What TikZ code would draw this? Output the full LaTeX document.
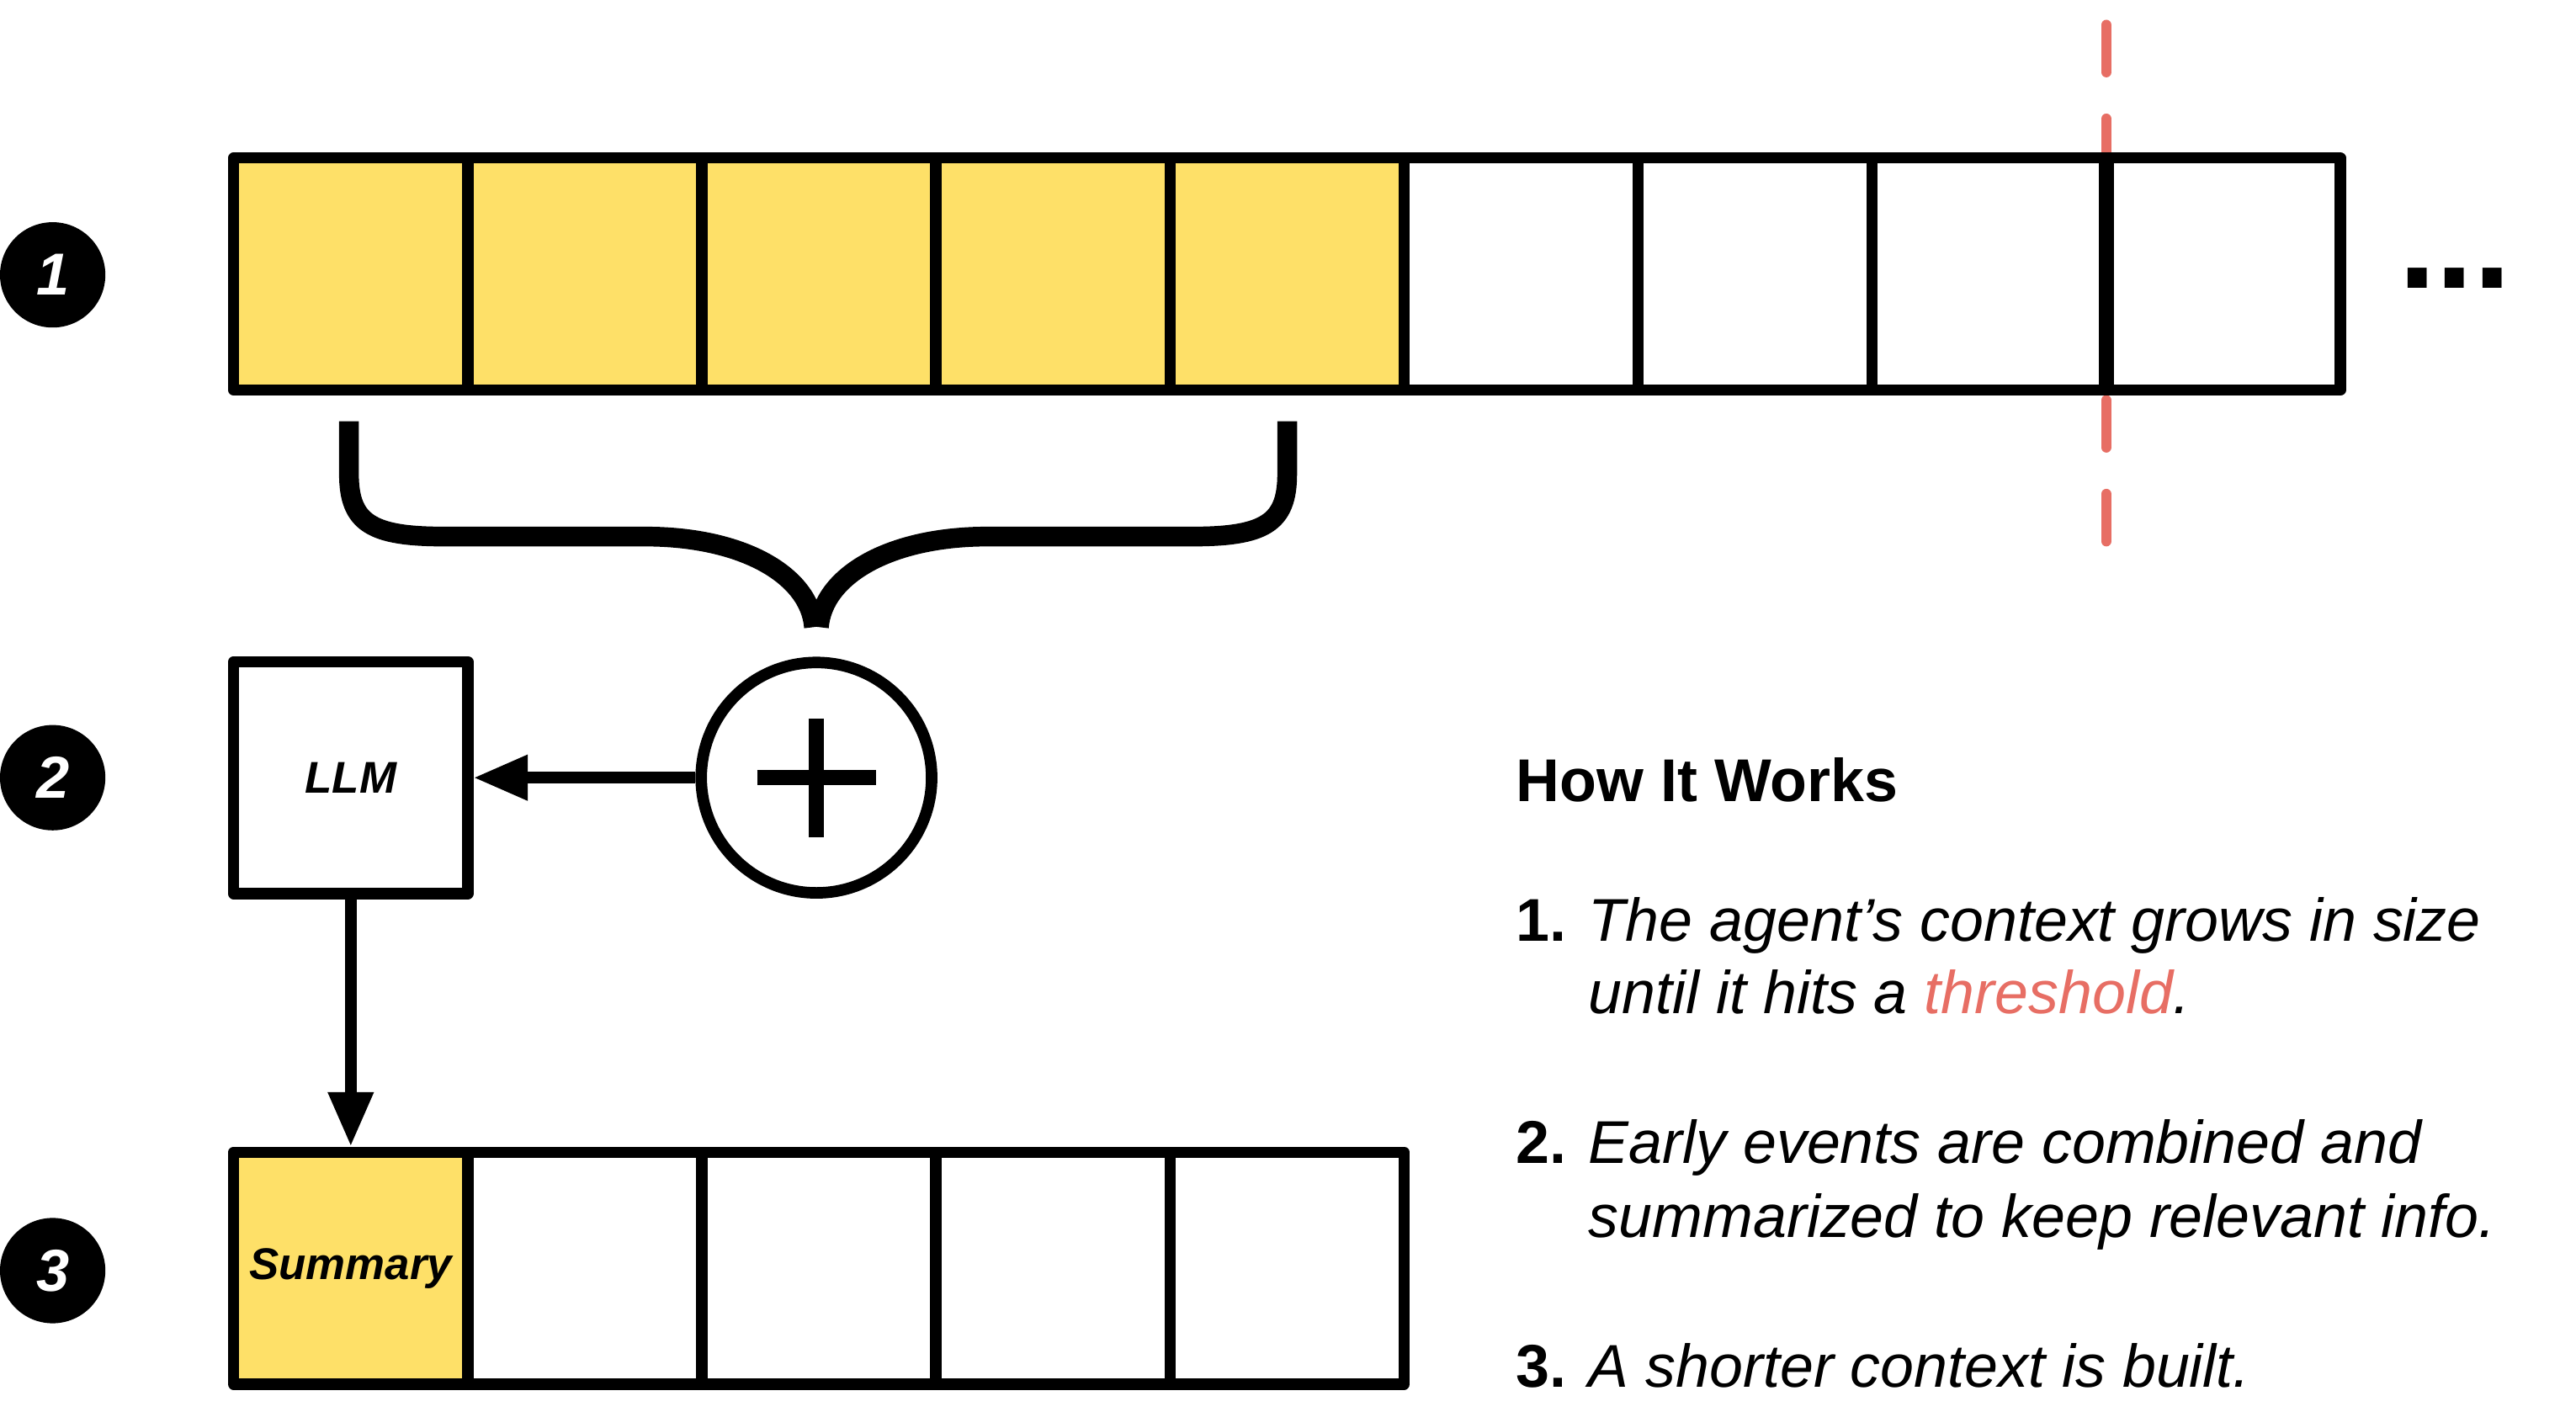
\documentclass[tikz,border=0pt]{standalone}
\usepackage{fontspec}
\setmainfont{Liberation Sans}
\usetikzlibrary{arrows.meta}
\definecolor{cellyellow}{RGB}{254,224,104}
\definecolor{threshred}{RGB}{231,110,100}
\begin{document}
\begin{tikzpicture}[x=1pt,y=-1pt,
  topcell/.style={draw=black, line width=6.8pt, minimum width=142.2pt, minimum height=141pt, inner sep=0pt, outer sep=0pt, line join=round},
  botcell/.style={draw=black, line width=6.8pt, minimum width=142.2pt, minimum height=141pt, inner sep=0pt, line join=round},
  numc/.style={circle, fill=black, text=white, minimum size=64pt, inner sep=0pt, font=\fontsize{36}{36}\selectfont\bfseries\itshape},
  boxlabel/.style={font=\fontsize{27}{27}\selectfont\bfseries\itshape},
  txt/.style={anchor=base west, inner sep=0pt, font=\fontsize{36.7}{44}\selectfont},
  bracestroke/.style={line width=12pt, line cap=butt, line join=round},
  conn/.style={line width=7pt, -{Triangle[length=33pt,width=26pt]}}
]
\useasboundingbox (0,0) rectangle (1565,857.4);

% threshold line (behind the cells)
\draw[threshred, line width=6.4pt, line cap=round, dash pattern=on 28.6pt off 28.4pt] (1279.6,15.2) -- (1279.6,331);

% top row
\foreach \i in {1,...,5}{
  \node[topcell, fill=cellyellow] (t\i) at ({142+142.2*(\i-0.5)},166.5) {};
}
\foreach \i in {6,...,9}{
  \node[topcell, fill=white] (t\i) at ({142+142.2*(\i-0.5)},166.5) {};
}
\draw[line width=9pt] (t9.north west) -- (t9.south west);

% dots
\node[anchor=base west, inner sep=0pt, font=\fontsize{82}{82}\selectfont\bfseries] (dots) at (1457,175) {...};

% number circles
\node[numc] (n1) at (32,167) {1};
\node[numc] (n2) at (32,472.5) {2};
\node[numc] (n3) at (32,772) {3};

% brace
\draw[bracestroke] (212,256) -- (212,288) .. controls (212,318) and (226,326) .. (270,326) -- (392,326) .. controls (452,326) and (492,350) .. (494.5,381);
\draw[bracestroke] (782,256) -- (782,288) .. controls (782,318) and (768,326) .. (724,326) -- (600,326) .. controls (540,326) and (500,350) .. (497.5,381);

% LLM box and plus
\node[draw=black, line width=6.8pt, minimum width=142.2pt, minimum height=141pt, inner sep=0pt, line join=round, boxlabel] (llm) at (213.1,472.5) {LLM};
\node[circle, draw=black, line width=7pt, minimum size=140pt, inner sep=0pt] (plus) at (496,472.5) {};
\draw[line width=9pt] (460,472.5) -- (532,472.5);
\draw[line width=9pt] (496,436.5) -- (496,508.5);

% bottom row
\node[botcell, fill=cellyellow, boxlabel] (b1) at (213.1,770.5) {Summary};
\foreach \i in {2,...,5}{
  \node[botcell, fill=white] (b\i) at ({142+142.2*(\i-0.5)},770.5) {};
}

% connectors
\draw[conn] (plus.west) -- (llm.east);
\draw[conn] (llm.south) -- (b1.north);

% text
\node[txt, font=\fontsize{36.7}{44}\selectfont\bfseries] (head) at (921,487) {How It Works};
\node[txt, font=\fontsize{36.7}{44}\selectfont\bfseries] (k1) at (921,572) {1.};
\node[txt, font=\fontsize{36.7}{44}\selectfont\itshape] (l1a) at (965,572) {The agent’s context grows in size};
\node[txt, font=\fontsize{36.7}{44}\selectfont\itshape] (l1b) at (965,616) {until it hits a \textcolor{threshred}{threshold}.};
\node[txt, font=\fontsize{36.7}{44}\selectfont\bfseries] (k2) at (921,707) {2.};
\node[txt, font=\fontsize{36.7}{44}\selectfont\itshape] (l2a) at (965,707) {Early events are combined and};
\node[txt, font=\fontsize{36.7}{44}\selectfont\itshape] (l2b) at (965,752) {summarized to keep relevant info.};
\node[txt, font=\fontsize{36.7}{44}\selectfont\bfseries] (k3) at (921,843) {3.};
\node[txt, font=\fontsize{36.7}{44}\selectfont\itshape] (l3a) at (965,843) {A shorter context is built.};
\end{tikzpicture}
\end{document}
